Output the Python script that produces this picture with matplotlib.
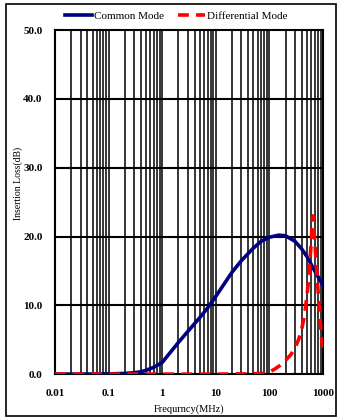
import matplotlib
matplotlib.use('Agg')
import matplotlib.pyplot as plt
from matplotlib.patches import Rectangle
from matplotlib.ticker import FixedLocator, NullFormatter

# Readings from the reference chart (frequency in MHz, insertion loss in dB)
cm_freq = [0.01, 0.03, 0.1, 0.2, 0.3, 0.4, 0.5, 0.7, 1.0, 1.5, 2, 3, 5, 7, 10,
           20, 30, 50, 70, 100, 150, 200, 300, 400, 500, 700, 1000]
cm_loss = [0.0, 0.0, 0.03, 0.1, 0.2, 0.35, 0.55, 1.0, 1.7, 3.4, 4.6, 6.2, 8.2, 9.6, 11.3,
           14.8, 16.5, 18.3, 19.3, 19.9, 20.2, 20.1, 19.3, 18.2, 17.1, 15.0, 12.9]

dm_freq = [0.01, 0.1, 1, 10, 50, 80, 100, 130, 160, 200, 250, 300, 350, 400, 450,
           500, 550, 600, 640, 680, 720, 780, 830, 900, 1000]
dm_loss = [0.0, 0.0, 0.0, 0.0, 0.05, 0.1, 0.3, 0.8, 1.3, 2.0, 2.8, 3.8, 5.0, 6.5, 8.5,
           11.2, 14.5, 19.0, 23.0, 21.0, 18.0, 14.0, 10.8, 7.0, 3.0]

x_ticks = [0.01, 0.1, 1, 10, 100, 1000]
x_tick_labels = ['0.01', '0.1', '1', '10', '100', '1000']
y_ticks = [0, 10, 20, 30, 40, 50]

plt.rcParams['font.family'] = ['Liberation Serif', 'DejaVu Serif']

fig = plt.figure(figsize=(3.4, 4.18), dpi=100)
ax = fig.add_axes([0.162, 0.105, 0.788, 0.823])

# black grid: every 1..9 in each decade, plus 10 dB steps
minor = [m * 10.0 ** d for d in range(-2, 3) for m in range(2, 10)]
for f in minor + x_ticks:
    ax.axvline(f, color='black', lw=1.1, zorder=1)
for y in y_ticks[1:-1]:
    ax.axhline(y, color='black', lw=1.5, zorder=1)

ax.plot(cm_freq, cm_loss, color='#000080', lw=2.6, label='Common Mode', zorder=3)
ax.plot(dm_freq, dm_loss, color='#ff0000', lw=2.6, ls=(0, (3, 2)), label='Differential Mode', zorder=4)

ax.set_xscale('log')
ax.set_xlim(0.01, 1000)
ax.set_ylim(0, 50)
ax.xaxis.set_major_locator(FixedLocator(x_ticks))
ax.set_xticklabels(x_tick_labels)
ax.xaxis.set_minor_formatter(NullFormatter())
ax.set_yticks(y_ticks)
ax.set_yticklabels([f'{v:.1f}' for v in y_ticks])
ax.tick_params(which='both', length=0, labelsize=8)
ax.tick_params(axis='x', pad=11)
ax.tick_params(axis='y', pad=9)
for lab in ax.get_xticklabels() + ax.get_yticklabels():
    lab.set_fontweight('bold')
for s in ax.spines.values():
    s.set_linewidth(1.5)

ax.set_xlabel('Frequrncy(MHz)', fontsize=7.5, labelpad=4)
ax.set_ylabel('Insertion Loss(dB)', fontsize=7)
ax.yaxis.set_label_coords(-0.12, 0.555)

fig.legend(loc='center', bbox_to_anchor=(0.519, 0.962), ncol=2, frameon=False,
           fontsize=8, handlelength=2.4, columnspacing=1.3, handletextpad=0.2)

fig.patches.append(Rectangle((0.018, 0.004), 0.97, 0.987, transform=fig.transFigure,
                             fill=False, edgecolor='black', lw=1.2))

fig.savefig('out.png', dpi=100)
